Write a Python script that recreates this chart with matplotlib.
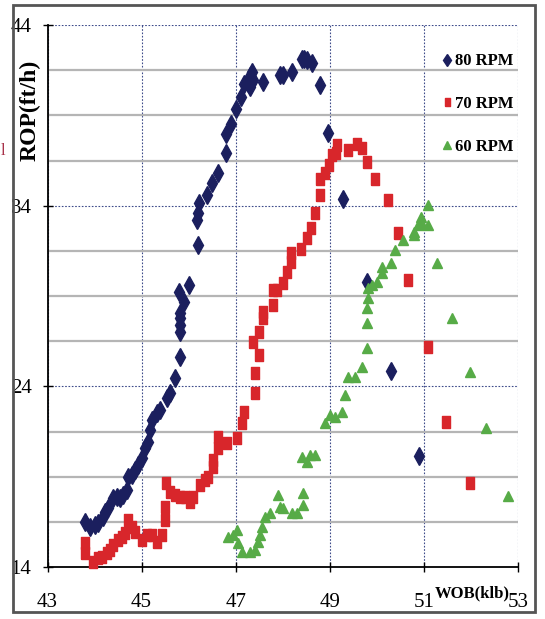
import matplotlib.pyplot as plt
import numpy as np
from matplotlib.lines import Line2D
from matplotlib.patches import Rectangle

# WOB (klb) and ROP (ft/h)
wob_80 = [43.80, 43.90, 44.01, 44.07, 44.18, 44.22, 44.29, 44.39, 44.48, 44.54,
          44.61, 44.69, 44.71, 44.80, 44.86, 44.93, 45.01, 45.07, 45.14, 45.18,
          45.22, 45.33, 45.39, 45.54, 45.60, 45.71, 45.82, 45.82, 45.82, 45.82,
          45.82, 45.90, 45.79, 46.01, 46.20, 46.18, 46.20, 46.22, 46.39, 46.49,
          46.62, 46.79, 46.79, 46.90, 47.00, 47.11, 47.17, 47.26, 47.30, 47.34,
          47.37, 47.30, 47.58, 47.94, 48.00, 48.19, 48.41, 48.46, 48.51, 48.62,
          48.79, 48.96, 49.28, 49.79, 50.30, 50.89]
rop_80 = [16.49, 16.22, 16.33, 16.44, 16.77, 17.05, 17.27, 17.82, 17.88, 17.82,
          17.99, 18.27, 18.99, 19.10, 19.37, 19.65, 20.04, 20.59, 20.93, 21.59,
          22.14, 22.53, 22.70, 23.36, 23.64, 24.47, 25.63, 27.02, 27.41, 27.80,
          28.07, 28.68, 29.24, 29.62, 31.84, 33.22, 33.61, 34.17, 34.61, 35.27,
          35.83, 36.94, 37.99, 38.54, 39.37, 40.04, 40.76, 40.81, 41.15, 41.42,
          40.98, 40.59, 40.87, 41.26, 41.26, 41.42, 42.14, 42.14, 42.09, 41.92,
          40.70, 38.04, 34.39, 29.79, 24.86, 20.15]

wob_70 = [43.80, 43.80, 43.97, 44.07, 44.16, 44.27, 44.33, 44.39, 44.50, 44.58,
          44.65, 44.71, 44.80, 44.86, 45.01, 45.11, 45.22, 45.33, 45.43, 45.50,
          45.50, 45.52, 45.60, 45.71, 45.82, 45.92, 46.03, 46.10, 46.24, 46.35,
          46.41, 46.52, 46.52, 46.62, 46.62, 46.81, 47.03, 47.13, 47.18, 47.41,
          47.41, 47.49, 47.37, 47.49, 47.58, 47.58, 47.79, 47.79, 47.87, 48.00,
          48.09, 48.17, 48.17, 48.38, 48.51, 48.60, 48.68, 48.79, 48.79, 48.89,
          48.98, 49.04, 49.13, 49.15, 49.38, 49.57, 49.68, 49.79, 49.96, 50.23,
          50.46, 50.66, 51.08, 51.48, 51.99]
rop_70 = [15.33, 14.78, 14.28, 14.51, 14.55, 14.78, 14.94, 15.22, 15.50, 15.66,
          15.88, 16.60, 16.22, 15.94, 15.50, 15.77, 15.77, 15.38, 15.77, 16.60,
          17.32, 18.65, 18.16, 17.99, 17.88, 17.88, 17.60, 17.88, 18.54, 18.82,
          18.99, 19.54, 19.93, 21.20, 20.59, 20.87, 21.15, 21.98, 22.59, 23.64,
          24.75, 25.75, 26.47, 27.02, 27.80, 28.13, 28.52, 29.35, 29.35, 29.73,
          30.34, 30.90, 31.40, 31.62, 32.23, 32.78, 33.61, 34.61, 35.50, 35.83,
          36.27, 36.83, 36.94, 37.38, 37.10, 37.43, 37.21, 36.44, 35.50, 34.33,
          32.50, 29.90, 26.19, 22.03, 18.65]

wob_60 = [46.83, 46.94, 47.03, 47.05, 47.13, 47.30, 47.41, 47.47, 47.51, 47.56,
          47.62, 47.73, 47.90, 47.94, 48.00, 48.19, 48.30, 48.43, 48.43, 48.41,
          48.51, 48.58, 48.68, 48.89, 49.00, 49.11, 49.25, 49.32, 49.38, 49.53,
          49.68, 49.79, 49.79, 49.79, 49.81, 49.81, 49.89, 50.00, 50.10, 50.10,
          50.30, 50.38, 50.55, 50.80, 50.80, 50.87, 50.93, 50.97, 51.08, 51.08,
          51.27, 51.59, 51.99, 52.31, 52.78]
rop_60 = [15.66, 15.77, 16.05, 15.33, 14.83, 14.83, 14.94, 15.38, 15.77, 16.22,
          16.77, 16.99, 17.99, 17.32, 17.27, 16.99, 16.99, 18.10, 17.43, 20.09,
          19.82, 20.20, 20.20, 21.98, 22.42, 22.31, 22.59, 23.53, 24.53, 24.53,
          25.08, 26.13, 27.52, 28.35, 28.90, 29.46, 29.62, 29.79, 30.29, 30.62,
          30.84, 31.56, 32.12, 32.39, 32.56, 32.95, 33.39, 33.00, 32.95, 34.06,
          30.84, 27.80, 24.80, 21.70, 17.93]

labels = ["80 RPM", "70 RPM", "60 RPM"]
c_blue = "#1b1f5e"
c_red = "#d8262b"
c_green = "#57ab47"

plt.rcParams['font.family'] = ['Liberation Serif', 'DejaVu Serif']

W, H = 545, 619
fig = plt.figure(figsize=(W / 100, H / 100), dpi=100)
fig.patch.set_facecolor('white')
ax = fig.add_axes([47.5 / W, (H - 567) / H, (518 - 47.5) / W, (567 - 25) / H])

rect_marker = [(-0.3, -0.5), (0.3, -0.5), (0.3, 0.5), (-0.3, 0.5), (-0.3, -0.5)]

ax.plot(wob_80, rop_80, ls='none', marker='d', ms=9, color=c_blue, mec=c_blue, zorder=3, clip_on=False)
ax.plot(wob_70, rop_70, ls='none', marker=rect_marker, ms=9, color=c_red, mec=c_red, zorder=3, clip_on=False)
ax.plot(wob_60, rop_60, ls='none', marker='^', ms=7.5, color=c_green, mec=c_green, zorder=3, clip_on=False)

ax.set_xlim(43, 53)
ax.set_ylim(14, 44)
ax.set_xticks([43, 45, 47, 49, 51, 53])
ax.set_yticks([14, 24, 34, 44])
minor_y = [v for v in np.arange(16.5, 44, 2.5) if v not in (24, 34)]
ax.set_yticks(minor_y, minor=True)

ax.set_axisbelow(True)
ax.grid(True, which='minor', axis='y', color='#b5b5b5', lw=1.6, ls='-')
ax.grid(True, which='major', color='#3d4a8a', lw=0.8, ls=(0, (1.5, 1.5)))

for s in ['top', 'right']:
    ax.spines[s].set_visible(False)
for s in ['left', 'bottom']:
    ax.spines[s].set_color('black')
    ax.spines[s].set_linewidth(1.3)

ax.tick_params(which='major', direction='inout', length=7, width=1, labelsize=15)
ax.tick_params(axis='y', which='major', pad=8)
ax.tick_params(axis='x', which='major', pad=15)
ax.tick_params(which='minor', length=0)

fig.text(30 / W, 1 - 110 / H, "ROP(ft/h)", rotation=90, ha='center', va='center',
         fontsize=17, fontweight='bold')
fig.text(472 / W, 1 - 593 / H, "WOB(klb)", ha='center', va='center',
         fontsize=12, fontweight='bold')
# small red mark at the left edge
fig.text(1 / W, 1 - 151 / H, "l", ha='left', va='center', fontsize=12, color='#a8324a')

handles = [
    Line2D([], [], ls='none', marker='d', ms=6, color=c_blue),
    Line2D([], [], ls='none', marker=rect_marker, ms=6, color=c_red),
    Line2D([], [], ls='none', marker='^', ms=6, color=c_green),
]
ax.legend(handles, labels, loc='upper left', bbox_to_anchor=(434 / W, 1 - 45 / H),
          bbox_transform=fig.transFigure, frameon=False, labelspacing=1.6,
          handlelength=0.6, handletextpad=0.15, borderpad=0,
          prop={'family': 'Liberation Serif', 'weight': 'bold', 'size': 12})

fig.patches.append(Rectangle((13 / W, 1 - 612 / H), (535 - 13) / W, (612 - 5) / H,
                             transform=fig.transFigure, fill=False, ec='#555555', lw=2))

fig.savefig("out.png", dpi=100)
